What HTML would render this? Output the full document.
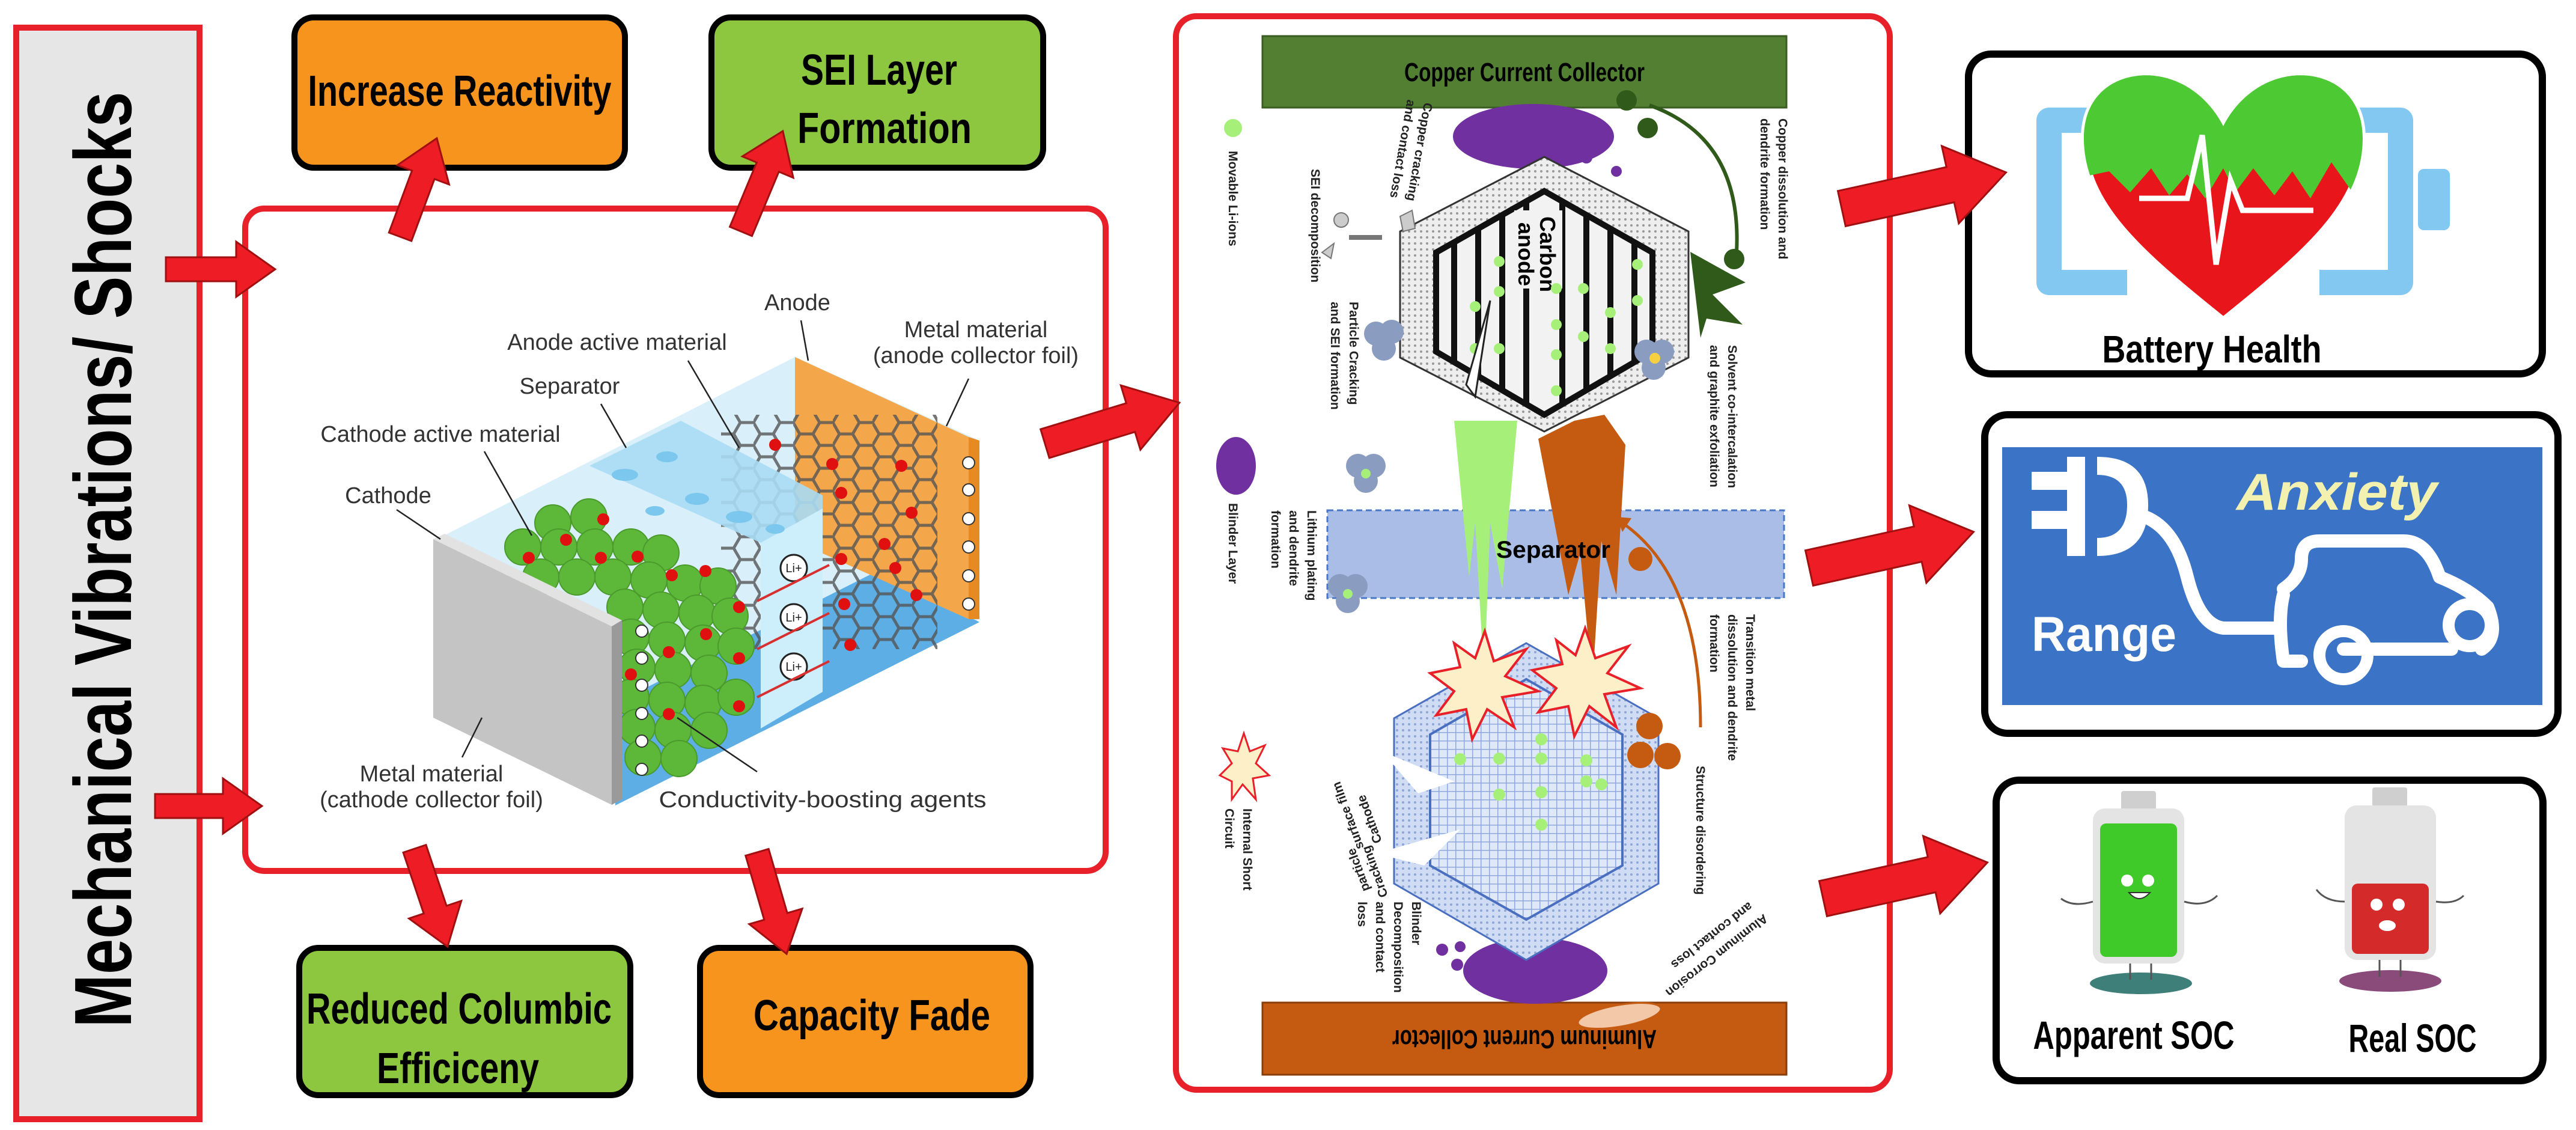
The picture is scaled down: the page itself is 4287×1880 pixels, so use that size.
<!DOCTYPE html>
<html><head><meta charset="utf-8"><style>html,body{margin:0;padding:0;background:#fff}svg{display:block}</style></head>
<body>
<svg width="4287" height="1880" viewBox="0 0 4287 1880" xmlns="http://www.w3.org/2000/svg" font-family="'Liberation Sans Narrow','Liberation Sans',sans-serif">
<defs>
<pattern id="hexp" width="66" height="38" patternUnits="userSpaceOnUse">
<path d="M0,19 L11,0 L33,0 L44,19 L33,38 L11,38 Z M44,19 L66,19" fill="none" stroke="#555" stroke-width="5"/>
</pattern>
<pattern id="grid" width="14" height="14" patternUnits="userSpaceOnUse">
<rect width="14" height="14" fill="#dfe8f8"/><path d="M0,0H14M0,0V14" stroke="#8fa8dc" stroke-width="3"/>
</pattern>
<pattern id="dots" width="10" height="10" patternUnits="userSpaceOnUse">
<rect width="10" height="10" fill="#eeeeee"/><circle cx="5" cy="5" r="2" fill="#999"/>
</pattern>
<pattern id="dotsb" width="10" height="10" patternUnits="userSpaceOnUse">
<rect width="10" height="10" fill="#cfdcf3"/><circle cx="5" cy="5" r="2" fill="#8ea6d8"/>
</pattern>
<clipPath id="anin"><polygon points="2570,318 2750,420 2750,585 2570,690 2390,585 2390,420"/></clipPath>
<clipPath id="heartTop"><polygon points="3440,90 3960,90 3960,300 3915,320 3880,270 3845,330 3815,285 3785,325 3750,280 3720,320 3700,280 3670,330 3640,290 3610,325 3580,280 3545,320 3510,285 3440,300"/></clipPath>
</defs>

<rect x="27" y="46" width="305" height="1816" fill="#e6e6e6" stroke="#e8202a" stroke-width="10"/>
<text transform="translate(218,931) rotate(-90)" text-anchor="middle" font-size="135" font-weight="bold" textLength="1557" lengthAdjust="spacingAndGlyphs">Mechanical Vibrations/ Shocks</text>

<rect x="490" y="29" width="550" height="250" rx="32" fill="#f7941d" stroke="#000" stroke-width="10"/>
<text x="765" y="176" text-anchor="middle" font-size="72" font-weight="bold" textLength="505" lengthAdjust="spacingAndGlyphs">Increase Reactivity</text>
<rect x="1184" y="29" width="552" height="250" rx="32" fill="#8dc63f" stroke="#000" stroke-width="10"/>
<text x="1463" y="141" text-anchor="middle" font-size="72" font-weight="bold" textLength="260" lengthAdjust="spacingAndGlyphs">SEI Layer</text>
<text x="1472" y="238" text-anchor="middle" font-size="72" font-weight="bold" textLength="290" lengthAdjust="spacingAndGlyphs">Formation</text>
<rect x="498" y="1577" width="551" height="245" rx="32" fill="#8dc63f" stroke="#000" stroke-width="10"/>
<text x="764" y="1703" text-anchor="middle" font-size="72" font-weight="bold" textLength="508" lengthAdjust="spacingAndGlyphs">Reduced Columbic</text>
<text x="762" y="1802" text-anchor="middle" font-size="72" font-weight="bold" textLength="270" lengthAdjust="spacingAndGlyphs">Efficiceny</text>
<rect x="1165" y="1577" width="550" height="245" rx="32" fill="#f7941d" stroke="#000" stroke-width="10"/>
<text x="1451" y="1714" text-anchor="middle" font-size="72" font-weight="bold" textLength="394" lengthAdjust="spacingAndGlyphs">Capacity Fade</text>

<rect x="408" y="347" width="1432" height="1102" rx="32" fill="#fff" stroke="#e8202a" stroke-width="10"/>

<polygon points="739,891 1323,594 1630,733 1630,1030 1024,1340 1024,1042" fill="#d9effa"/>
<polygon points="1024,1340 1630,1035 1460,950 1024,1170" fill="#5eaee6"/>
<polygon points="1323,594 1612,727 1612,1030 1323,900" fill="#f4a64a"/>
<polygon points="1612,727 1630,733 1630,1030 1612,1030" fill="#e88a22"/>
<polygon points="1200,690 1560,690 1560,1080 1200,1080" fill="url(#hexp)" opacity="0.8"/>
<polygon points="981,775 1133,700 1369,824 1369,1151 1266,1212 1266,903" fill="#a9dcf4" opacity="0.9"/>
<polygon points="1266,903 1369,846 1369,1151 1266,1212" fill="#cdeefb"/>
<g fill="#7cc7ee"><ellipse cx="1040" cy="790" rx="22" ry="10"/><ellipse cx="1110" cy="760" rx="18" ry="9"/><ellipse cx="1160" cy="830" rx="20" ry="10"/><ellipse cx="1230" cy="860" rx="22" ry="10"/><ellipse cx="1090" cy="850" rx="16" ry="8"/><ellipse cx="1290" cy="880" rx="16" ry="8"/></g>
<g fill="#fff" stroke="#222" stroke-width="3">
<circle cx="1321" cy="945" r="22"/><circle cx="1321" cy="1027" r="22"/><circle cx="1321" cy="1109" r="22"/></g>
<g font-size="20" text-anchor="middle" font-family="'Liberation Sans',sans-serif" fill="#222"><text x="1321" y="952">Li+</text><text x="1321" y="1034">Li+</text><text x="1321" y="1116">Li+</text></g>
<g stroke="#d83030" stroke-width="4"><line x1="1260" y1="1000" x2="1380" y2="940"/><line x1="1260" y1="1080" x2="1380" y2="1020"/><line x1="1260" y1="1160" x2="1380" y2="1100"/></g>
<g fill="#5db83a" stroke="#4a9a2c" stroke-width="2">
<circle cx="920" cy="870" r="30"/><circle cx="980" cy="860" r="30"/><circle cx="870" cy="910" r="30"/><circle cx="930" cy="910" r="30"/><circle cx="990" cy="910" r="30"/><circle cx="1050" cy="910" r="30"/><circle cx="1100" cy="920" r="30"/>
<circle cx="900" cy="960" r="30"/><circle cx="960" cy="960" r="30"/><circle cx="1020" cy="960" r="30"/><circle cx="1080" cy="965" r="30"/><circle cx="1140" cy="970" r="30"/><circle cx="1195" cy="975" r="30"/>
<circle cx="1040" cy="1010" r="30"/><circle cx="1100" cy="1015" r="30"/><circle cx="1160" cy="1020" r="30"/><circle cx="1215" cy="1025" r="30"/>
<circle cx="1050" cy="1060" r="30"/><circle cx="1110" cy="1065" r="30"/><circle cx="1170" cy="1070" r="30"/><circle cx="1225" cy="1075" r="30"/>
<circle cx="1060" cy="1110" r="30"/><circle cx="1120" cy="1115" r="30"/><circle cx="1180" cy="1120" r="30"/>
<circle cx="1050" cy="1160" r="30"/><circle cx="1110" cy="1165" r="30"/><circle cx="1170" cy="1170" r="30"/><circle cx="1225" cy="1160" r="30"/>
<circle cx="1060" cy="1210" r="30"/><circle cx="1120" cy="1215" r="30"/><circle cx="1180" cy="1215" r="30"/><circle cx="1070" cy="1260" r="30"/><circle cx="1130" cy="1262" r="30"/></g>
<g fill="#e01010"><circle cx="1004" cy="864" r="10"/><circle cx="942" cy="898" r="10"/><circle cx="1000" cy="928" r="10"/><circle cx="1061" cy="926" r="10"/><circle cx="880" cy="928" r="10"/><circle cx="1118" cy="957" r="10"/><circle cx="1174" cy="950" r="10"/><circle cx="1113" cy="1085" r="10"/><circle cx="1050" cy="1122" r="10"/><circle cx="1175" cy="1055" r="10"/><circle cx="1230" cy="1010" r="10"/><circle cx="1230" cy="1095" r="10"/><circle cx="1113" cy="1188" r="10"/><circle cx="1230" cy="1175" r="10"/><circle cx="1290" cy="740" r="10"/><circle cx="1385" cy="772" r="10"/><circle cx="1500" cy="775" r="10"/><circle cx="1400" cy="820" r="10"/><circle cx="1517" cy="853" r="10"/><circle cx="1400" cy="930" r="10"/><circle cx="1472" cy="905" r="10"/><circle cx="1490" cy="945" r="10"/><circle cx="1405" cy="1005" r="10"/><circle cx="1525" cy="990" r="10"/><circle cx="1415" cy="1073" r="10"/></g>
<polygon points="721,897 1018,1042 1018,1339 721,1194" fill="#c4c4c4"/>
<polygon points="1018,1042 1035,1032 1035,1330 1018,1339" fill="#9a9a9a"/>
<polygon points="721,897 1018,1042 1035,1032 740,888" fill="#e2e2e2"/>
<g fill="#fff" stroke="#333" stroke-width="2"><circle cx="1068" cy="1050" r="10"/><circle cx="1068" cy="1095" r="10"/><circle cx="1068" cy="1140" r="10"/><circle cx="1068" cy="1187" r="10"/><circle cx="1068" cy="1233" r="10"/><circle cx="1068" cy="1280" r="10"/><circle cx="1612" cy="770" r="10"/><circle cx="1612" cy="815" r="10"/><circle cx="1612" cy="863" r="10"/><circle cx="1612" cy="910" r="10"/><circle cx="1612" cy="958" r="10"/><circle cx="1612" cy="1005" r="10"/></g>
<g stroke="#222" stroke-width="2.5" fill="none"><line x1="1333" y1="533" x2="1345" y2="600"/><line x1="1612" y1="630" x2="1575" y2="709"/><line x1="1145" y1="600" x2="1230" y2="745"/><line x1="1000" y1="672" x2="1042" y2="745"/><line x1="806" y1="751" x2="885" y2="891"/><line x1="660" y1="848" x2="733" y2="897"/><line x1="769" y1="1260" x2="802" y2="1194"/><line x1="1260" y1="1284" x2="1127" y2="1194"/></g>
<g font-family="'Liberation Sans',sans-serif" font-size="38" fill="#333" text-anchor="middle">
<text x="1327" y="516">Anode</text>
<text x="1624" y="561">Metal material</text><text x="1624" y="604">(anode collector foil)</text>
<text x="1027" y="582">Anode active material</text>
<text x="948" y="655">Separator</text>
<text x="733" y="735">Cathode active material</text>
<text x="646" y="837">Cathode</text>
<text x="718" y="1300">Metal material</text><text x="718" y="1343">(cathode collector foil)</text>
<text x="1369" y="1343" textLength="545" lengthAdjust="spacingAndGlyphs">Conductivity-boosting agents</text>
</g>

<rect x="1957" y="27" width="1188" height="1786" rx="34" fill="#fff" stroke="#e8202a" stroke-width="10"/>
<rect x="2101" y="60" width="872" height="119" fill="#527f32" stroke="#3a5d22" stroke-width="3"/>
<text x="2537" y="135" text-anchor="middle" font-size="44" font-weight="bold" textLength="400" lengthAdjust="spacingAndGlyphs">Copper Current Collector</text>
<rect x="2101" y="1668" width="872" height="120" fill="#c55a11" stroke="#8a3d0a" stroke-width="3"/>
<text transform="translate(2537,1714) rotate(180)" text-anchor="middle" font-size="44" font-weight="bold" textLength="440" lengthAdjust="spacingAndGlyphs">Aluminum Current Collector</text>
<rect x="2209" y="849" width="760" height="146" fill="#a9bde6" stroke="#4a78c8" stroke-width="3" stroke-dasharray="10,6"/>

<ellipse cx="2552" cy="227" rx="134" ry="54" fill="#7030a0"/>
<ellipse cx="2555" cy="1615" rx="120" ry="55" fill="#7030a0"/>
<ellipse cx="2057" cy="775" rx="33" ry="48" fill="#7030a0"/>
<circle cx="2052" cy="213" r="15" fill="#a6f07a"/>
<g fill="#7030a0"><circle cx="2640" cy="262" r="10"/><circle cx="2690" cy="285" r="9"/><circle cx="2400" cy="1580" r="10"/><circle cx="2430" cy="1575" r="9"/><circle cx="2425" cy="1605" r="10"/></g>

<polygon points="2420,700 2445,960 2455,870 2470,1130 2480,870 2500,980 2525,700" fill="#a6f07a"/>
<polygon points="2560,730 2610,990 2630,920 2650,1140 2665,900 2690,990 2705,740 2670,690 2620,700" fill="#c55a11"/>
<path d="M2830,1210 Q2830,960 2700,870" fill="none" stroke="#c55a11" stroke-width="5"/>
<polygon points="2690,860 2715,862 2700,885" fill="#c55a11"/>
<circle cx="2730" cy="930" r="20" fill="#c55a11"/>

<polygon points="2570,261 2810,385 2810,595 2570,718 2330,595 2330,385" fill="url(#dots)" stroke="#333" stroke-width="3"/>
<polygon points="2570,318 2750,420 2750,585 2570,690 2390,585 2390,420" fill="#f2f2f2" stroke="#111" stroke-width="10"/>
<g clip-path="url(#anin)" stroke="#111" stroke-width="10"><line x1="2420" y1="300" x2="2420" y2="720"/><line x1="2460" y1="300" x2="2460" y2="720"/><line x1="2500" y1="300" x2="2500" y2="720"/><line x1="2540" y1="300" x2="2540" y2="720"/><line x1="2600" y1="300" x2="2600" y2="720"/><line x1="2640" y1="300" x2="2640" y2="720"/><line x1="2680" y1="300" x2="2680" y2="720"/><line x1="2720" y1="300" x2="2720" y2="720"/></g>
<rect x="2520" y="350" width="80" height="130" fill="#f2f2f2"/>
<text transform="translate(2563,360) rotate(90)" font-size="36" font-weight="bold" font-family="'Liberation Sans',sans-serif">Carbon</text>
<text transform="translate(2527,370) rotate(90)" font-size="36" font-weight="bold" font-family="'Liberation Sans',sans-serif">anode</text>
<g fill="#a6f07a"><circle cx="2495" cy="435" r="9"/><circle cx="2495" cy="485" r="9"/><circle cx="2455" cy="510" r="9"/><circle cx="2455" cy="580" r="9"/><circle cx="2495" cy="580" r="9"/><circle cx="2590" cy="480" r="9"/><circle cx="2590" cy="540" r="9"/><circle cx="2590" cy="590" r="9"/><circle cx="2635" cy="560" r="9"/><circle cx="2635" cy="480" r="9"/><circle cx="2680" cy="520" r="9"/><circle cx="2680" cy="580" r="9"/><circle cx="2725" cy="440" r="9"/><circle cx="2725" cy="500" r="9"/><circle cx="2590" cy="650" r="9"/></g>
<polygon points="2440,640 2480,500 2455,660" fill="#fff" stroke="#222" stroke-width="3"/>
<polygon points="2813,419 2905,470 2850,490 2900,540 2840,530 2830,562" fill="#2f5a1a"/>
<path d="M2745,175 Q2900,230 2890,420" fill="none" stroke="#2f5a1a" stroke-width="6"/>
<g fill="#2f5a1a"><circle cx="2707" cy="167" r="17"/><circle cx="2742" cy="213" r="17"/><circle cx="2886" cy="431" r="17"/></g>
<g fill="#8a9cc0"><circle cx="2290" cy="555" r="20"/><circle cx="2316" cy="552" r="20"/><circle cx="2303" cy="580" r="20"/><circle cx="2740" cy="585" r="20"/><circle cx="2766" cy="585" r="20"/><circle cx="2752" cy="612" r="20"/><circle cx="2260" cy="775" r="20"/><circle cx="2286" cy="775" r="20"/><circle cx="2273" cy="800" r="20"/><circle cx="2230" cy="975" r="20"/><circle cx="2256" cy="975" r="20"/><circle cx="2243" cy="1000" r="20"/></g>
<g fill="#a6f07a"><circle cx="2273" cy="788" r="8"/><circle cx="2243" cy="988" r="8"/></g><circle cx="2754" cy="596" r="9" fill="#f5d040"/>
<g fill="#ccc" stroke="#777" stroke-width="2"><circle cx="2232" cy="366" r="12"/><polygon points="2200,420 2220,405 2215,430"/><polygon points="2330,360 2350,350 2355,380 2335,385"/></g>
<path d="M2245,395 H2300" stroke="#777" stroke-width="8"/>

<polygon points="2540,1070 2760,1195 2760,1470 2540,1597 2320,1470 2320,1195" fill="url(#dotsb)" stroke="#4a6fc0" stroke-width="3"/>
<polygon points="2540,1130 2700,1222 2700,1440 2540,1530 2380,1440 2380,1222" fill="url(#grid)" stroke="#4a6fc0" stroke-width="4"/>
<g fill="#a6f07a"><circle cx="2430" cy="1263" r="10"/><circle cx="2495" cy="1262" r="10"/><circle cx="2565" cy="1262" r="10"/><circle cx="2640" cy="1265" r="10"/><circle cx="2495" cy="1322" r="10"/><circle cx="2565" cy="1318" r="10"/><circle cx="2640" cy="1300" r="10"/><circle cx="2665" cy="1305" r="10"/><circle cx="2565" cy="1372" r="10"/><circle cx="2565" cy="1230" r="10"/></g>
<polygon points="2300,1250 2420,1300 2360,1320" fill="#fff"/><polygon points="2290,1420 2430,1380 2370,1440" fill="#fff"/>
<g fill="#c55a11"><circle cx="2745" cy="1208" r="22"/><circle cx="2730" cy="1256" r="22"/><circle cx="2775" cy="1258" r="22"/></g>
<polygon points="2471,1050 2486,1100 2540,1080 2505,1125 2560,1150 2500,1160 2520,1210 2475,1180 2450,1230 2440,1180 2390,1190 2420,1150 2380,1120 2430,1110 2420,1070 2455,1095" fill="#fdf0c8" stroke="#e8202a" stroke-width="4"/>
<polygon points="2638,1045 2655,1095 2710,1075 2675,1120 2730,1145 2670,1155 2690,1210 2645,1175 2620,1225 2610,1175 2560,1185 2590,1145 2550,1115 2600,1105 2590,1065 2622,1090" fill="#fdf0c8" stroke="#e8202a" stroke-width="4"/>
<polygon points="2070,1220 2080,1250 2105,1240 2090,1270 2112,1290 2085,1295 2090,1330 2068,1305 2050,1330 2050,1300 2030,1290 2050,1270 2035,1245 2060,1250" fill="#fdf0c8" stroke="#e8202a" stroke-width="3"/>
<ellipse cx="2695" cy="1690" rx="70" ry="18" fill="#f3c8a8" stroke="#c55a11" stroke-width="3" transform="rotate(-10 2695 1690)"/>

<g font-family="'Liberation Sans',sans-serif" font-size="21" font-weight="bold" fill="#222">
<text transform="translate(2045,251) rotate(90)">Movable Li-ions</text>
<text transform="translate(2182,281) rotate(90)">SEI decomposition</text>
<text transform="translate(2370,170) rotate(100)">Copper cracking</text>
<text transform="translate(2342,165) rotate(100)">and contact loss</text>
<text transform="translate(2246,502) rotate(90)">Particle Cracking</text>
<text transform="translate(2215,502) rotate(90)">and SEI formation</text>
<text transform="translate(2960,197) rotate(90)">Copper dissolution and</text>
<text transform="translate(2930,197) rotate(90)">dendrite formation</text>
<text transform="translate(2876,574) rotate(90)">Solvent co-intercalation</text>
<text transform="translate(2846,574) rotate(90)">and graphite exfoliation</text>
<text transform="translate(2045,837) rotate(90)">Blinder Layer</text>
<text transform="translate(2176,849) rotate(90)">Lithium plating</text>
<text transform="translate(2146,849) rotate(90)">and dendrite</text>
<text transform="translate(2116,849) rotate(90)">formation</text>
<text transform="translate(2906,1022) rotate(90)">Transition metal</text>
<text transform="translate(2876,1022) rotate(90)">dissolution and dendrite</text>
<text transform="translate(2846,1022) rotate(90)">formation</text>
<text transform="translate(2069,1345) rotate(90)">Internal Short</text>
<text transform="translate(2039,1345) rotate(90)">Circuit</text>
<text transform="translate(2823,1274) rotate(90)">Structure disordering</text>
<text transform="translate(2300,1400) rotate(-110)">Cathode</text>
<text transform="translate(2270,1410) rotate(-110)">surface film</text>
<text transform="translate(2310,1490) rotate(-110)">Cracking</text>
<text transform="translate(2280,1480) rotate(-110)">particle</text>
<text transform="translate(2350,1500) rotate(90)">Blinder</text>
<text transform="translate(2320,1500) rotate(90)">Decomposition</text>
<text transform="translate(2290,1500) rotate(90)">and contact</text>
<text transform="translate(2260,1500) rotate(90)">loss</text>
<text transform="translate(2935,1520) rotate(142)">Aluminum Corrosion</text>
<text transform="translate(2910,1500) rotate(142)">and contact loss</text>
</g>
<text x="2585" y="928" text-anchor="middle" font-size="40" font-weight="bold" textLength="190" lengthAdjust="spacingAndGlyphs">Separator</text>

<rect x="3276" y="90" width="955" height="532" rx="38" fill="#fff" stroke="#000" stroke-width="12"/>
<g fill="none" stroke="#82c8f0" stroke-width="42" stroke-linejoin="round">
<path d="M3480,200 H3410 V470 H3540"/><path d="M3870,200 H3995 V470 H3860"/></g>
<rect x="4024" y="281" width="53" height="102" rx="10" fill="#82c8f0"/>
<path d="M3700,532 C3560,420 3468,340 3468,230 C3468,150 3530,120 3585,126 C3640,132 3680,170 3700,210 C3720,170 3760,132 3815,126 C3870,120 3932,150 3932,230 C3932,340 3840,420 3700,532 Z" fill="#e8151b" stroke="#fff" stroke-width="10"/>
<path clip-path="url(#heartTop)" d="M3700,532 C3560,420 3468,340 3468,230 C3468,150 3530,120 3585,126 C3640,132 3680,170 3700,210 C3720,170 3760,132 3815,126 C3870,120 3932,150 3932,230 C3932,340 3840,420 3700,532 Z" fill="#4cc933"/>
<polyline points="3560,330 3640,330 3665,225 3688,440 3712,300 3732,350 3850,350" fill="none" stroke="#fff" stroke-width="9"/>
<text x="3681" y="603" text-anchor="middle" font-size="64" font-weight="bold" textLength="365" lengthAdjust="spacingAndGlyphs">Battery Health</text>

<rect x="3303" y="690" width="954" height="530" rx="38" fill="#fff" stroke="#000" stroke-width="12"/>
<rect x="3332" y="744" width="899" height="429" fill="#3b74c6"/>
<g fill="#fff">
<rect x="3381" y="785" width="70" height="30"/><rect x="3381" y="850" width="70" height="30"/>
<path d="M3440,760 H3470 V925 H3440 Z"/>
<path d="M3490,760 Q3575,760 3575,840 Q3575,925 3490,925 V895 Q3540,895 3540,840 Q3540,790 3490,790 Z"/>
</g>
<g fill="none" stroke="#fff" stroke-width="22" stroke-linecap="round" stroke-linejoin="round">
<path d="M3570,860 Q3620,880 3640,960 Q3660,1040 3700,1045 H3790"/>
<path d="M3800,980 Q3830,960 3830,930 Q3830,900 3860,900 H4000 Q4040,900 4060,960 Q4110,980 4140,1010 Q4160,1060 4130,1080"/>
<path d="M3800,990 Q3790,1030 3800,1100 H3830"/>
<path d="M3900,1080 H4080"/>
</g>
<g fill="none" stroke="#fff" stroke-width="20"><circle cx="3900" cy="1090" r="40"/><circle cx="4110" cy="1040" r="35"/></g>
<text x="3722" y="848" font-family="'Liberation Sans',sans-serif" font-size="86" font-weight="bold" font-style="italic" fill="#f3f1b0" textLength="334" lengthAdjust="spacingAndGlyphs">Anxiety</text>
<text x="3381" y="1083" font-family="'Liberation Sans',sans-serif" font-size="82" font-weight="bold" fill="#fff" textLength="241" lengthAdjust="spacingAndGlyphs">Range</text>

<rect x="3322" y="1298" width="910" height="500" rx="38" fill="#fff" stroke="#000" stroke-width="12"/>
<ellipse cx="3563" cy="1636" rx="85" ry="18" fill="#3f7f7a"/>
<ellipse cx="3978" cy="1632" rx="85" ry="18" fill="#8a4a7a"/>
<rect x="3530" y="1316" width="58" height="32" rx="4" fill="#cfcfcf"/>
<rect x="3483" y="1345" width="152" height="258" rx="20" fill="#e4e4e4"/>
<rect x="3495" y="1370" width="128" height="222" rx="10" fill="#3fca2a"/>
<rect x="3948" y="1310" width="58" height="32" rx="4" fill="#cfcfcf"/>
<rect x="3902" y="1340" width="152" height="257" rx="20" fill="#e4e4e4"/>
<rect x="3914" y="1470" width="128" height="117" rx="10" fill="#d42a2a"/>
<g fill="#fff"><circle cx="3540" cy="1465" r="10"/><circle cx="3575" cy="1465" r="10"/><circle cx="3955" cy="1505" r="10"/><circle cx="3992" cy="1505" r="10"/></g>
<path d="M3543,1485 Q3560,1505 3578,1485 Z" fill="#fff" stroke="#333" stroke-width="2"/>
<ellipse cx="3973" cy="1540" rx="14" ry="9" fill="#fff"/>
<g stroke="#555" stroke-width="3" fill="none"><path d="M3483,1500 Q3450,1510 3430,1495"/><path d="M3635,1500 Q3670,1510 3690,1490"/><path d="M3902,1500 Q3870,1500 3855,1480"/><path d="M4054,1500 Q4085,1505 4100,1490"/><path d="M3545,1603 V1630 M3580,1603 V1630 M3960,1597 V1625 M3995,1597 V1625"/></g>
<text x="3551" y="1745" text-anchor="middle" font-size="66" font-weight="bold" textLength="335" lengthAdjust="spacingAndGlyphs">Apparent SOC</text>
<text x="4015" y="1750" text-anchor="middle" font-size="66" font-weight="bold" textLength="213" lengthAdjust="spacingAndGlyphs">Real SOC</text>

<g fill="#ee1c25" stroke="#a01010" stroke-width="3">
<polygon transform="translate(276,448)" points="0,-20 117,-20 117,-46 182,0 117,46 117,20 0,20"/>
<polygon transform="translate(258,1341)" points="0,-20 113,-20 113,-46 178,0 113,46 113,20 0,20"/>
<polygon transform="translate(666,394) rotate(-69.6)" points="0,-20 110,-20 110,-46 175,0 110,46 110,20 0,20"/>
<polygon transform="translate(1233,385) rotate(-67.3)" points="0,-20 116,-20 116,-46 181,0 116,46 116,20 0,20"/>
<polygon transform="translate(690,1412) rotate(71.4)" points="0,-20 107,-20 107,-46 172,0 107,46 107,20 0,20"/>
<polygon transform="translate(1260,1418) rotate(73.8)" points="0,-20 111,-20 111,-46 176,0 111,46 111,20 0,20"/>
<polygon transform="translate(1739,738) rotate(-16.9)" points="0,-25 149,-25 149,-56 234,0 149,56 149,25 0,25"/>
<polygon transform="translate(3065,347) rotate(-12.4)" points="0,-30 185,-30 185,-66 280,0 185,66 185,30 0,30"/>
<polygon transform="translate(3011,945) rotate(-12.4)" points="0,-30 185,-30 185,-66 280,0 185,66 185,30 0,30"/>
<polygon transform="translate(3034,1495) rotate(-12.4)" points="0,-30 185,-30 185,-66 280,0 185,66 185,30 0,30"/>
</g>
</svg>
</body></html>
